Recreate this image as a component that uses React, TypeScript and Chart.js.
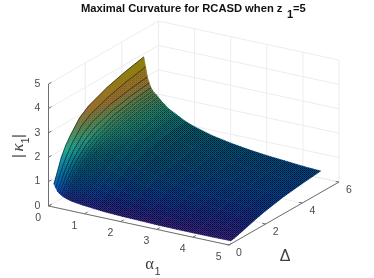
import { useEffect, useRef } from "react";
import { Chart, registerables } from "chart.js";

Chart.register(...registerables);

const alphaTicks = [0, 1, 2, 3, 4, 5];
const deltaTicks = [0, 2, 4, 6];
const kappaTicks = [0, 1, 2, 3, 4, 5];

const deltaValues = [0.1, 0.2, 0.3, 0.5, 0.75, 1, 1.5, 2, 3, 4, 5];
const alphaValues = [0.1, 0.15, 0.2, 0.25, 0.3, 0.35, 0.4, 0.45, 0.5, 0.55, 0.6, 0.65, 0.7, 0.75, 0.8, 0.9, 1, 1.25, 1.5, 2, 2.5, 3, 3.5, 4, 4.5, 5];
const kappaRows = [
  [0.89, 1.1, 1.33, 1.8, 2.2, 2.5, 3.0, 3.28, 3.6, 3.82, 3.99],
  [0.75, 0.95, 1.14, 1.52, 1.9, 2.2, 2.68, 2.95, 3.25, 3.45, 3.6],
  [0.62, 0.8, 0.97, 1.3, 1.65, 1.95, 2.38, 2.65, 2.95, 3.1, 3.2],
  [0.55, 0.7, 0.86, 1.16, 1.48, 1.75, 2.16, 2.42, 2.7, 2.87, 2.97],
  [0.5, 0.63, 0.77, 1.05, 1.35, 1.6, 2.0, 2.25, 2.55, 2.7, 2.8],
  [0.46, 0.58, 0.71, 0.97, 1.25, 1.48, 1.88, 2.13, 2.42, 2.58, 2.68],
  [0.43, 0.54, 0.66, 0.9, 1.16, 1.4, 1.78, 2.03, 2.34, 2.5, 2.6],
  [0.4, 0.5, 0.61, 0.84, 1.1, 1.32, 1.7, 1.94, 2.26, 2.45, 2.55],
  [0.38, 0.47, 0.58, 0.79, 1.05, 1.26, 1.63, 1.87, 2.19, 2.37, 2.47],
  [0.36, 0.45, 0.55, 0.75, 1.0, 1.2, 1.56, 1.8, 2.12, 2.3, 2.4],
  [0.34, 0.43, 0.52, 0.71, 0.95, 1.15, 1.5, 1.73, 2.05, 2.22, 2.32],
  [0.33, 0.41, 0.5, 0.68, 0.91, 1.1, 1.45, 1.66, 1.98, 2.16, 2.26],
  [0.32, 0.39, 0.48, 0.65, 0.87, 1.06, 1.4, 1.61, 1.93, 2.1, 2.2],
  [0.31, 0.38, 0.46, 0.63, 0.84, 1.03, 1.35, 1.56, 1.87, 2.03, 2.13],
  [0.3, 0.36, 0.44, 0.6, 0.81, 0.99, 1.31, 1.52, 1.83, 1.98, 2.08],
  [0.28, 0.34, 0.41, 0.56, 0.76, 0.93, 1.23, 1.44, 1.75, 1.9, 2.0],
  [0.27, 0.32, 0.39, 0.53, 0.72, 0.88, 1.17, 1.37, 1.67, 1.82, 1.92],
  [0.23, 0.28, 0.35, 0.48, 0.64, 0.78, 1.05, 1.24, 1.48, 1.63, 1.72],
  [0.2, 0.25, 0.31, 0.43, 0.58, 0.71, 0.94, 1.12, 1.33, 1.47, 1.58],
  [0.17, 0.21, 0.26, 0.36, 0.49, 0.6, 0.8, 0.96, 1.16, 1.29, 1.37],
  [0.15, 0.18, 0.23, 0.31, 0.42, 0.52, 0.7, 0.84, 1.03, 1.16, 1.23],
  [0.13, 0.16, 0.2, 0.28, 0.37, 0.46, 0.62, 0.75, 0.93, 1.05, 1.12],
  [0.12, 0.15, 0.18, 0.25, 0.33, 0.41, 0.56, 0.68, 0.85, 0.97, 1.04],
  [0.12, 0.14, 0.17, 0.23, 0.3, 0.37, 0.51, 0.63, 0.79, 0.9, 0.98],
  [0.12, 0.14, 0.16, 0.21, 0.28, 0.34, 0.47, 0.58, 0.74, 0.85, 0.92],
  [0.13, 0.14, 0.16, 0.2, 0.26, 0.32, 0.44, 0.54, 0.7, 0.8, 0.88],
];

const colourLevels = [0.13, 0.4, 0.7, 1.1, 1.6, 2.1, 2.6, 3.1, 3.5, 4];
const colourStops = [
  [52, 34, 128], [26, 42, 135], [6, 62, 140], [2, 78, 122], [5, 95, 112],
  [30, 130, 110], [85, 130, 78], [150, 108, 46], [150, 118, 28], [130, 135, 0],
];
const rowBrightness = [1.45, 1.4, 1.32, 1.24, 1.16, 1.08];

const overlayStarts = [0.15, 0.3, 0.5, 0.8, 1.25];
const overlayStrong = [0.18, 0.2, 0.22, 0.2, 0.2];
const overlayWeak = [0.04, 0.08, 0.1, 0.12, 0.12];

type P = { x: number; y: number };
const project = (a: number, d: number, z: number): P => ({
  x: 48.5 + 36.1 * a + 18.33 * d,
  y: 206 + 7.8 * a - 10.5 * d - 24.4 * z,
});

const colourAt = (z: number, row: number) => {
  let i = 0;
  while (i < colourLevels.length - 2 && z > colourLevels[i + 1]) i++;
  const t = Math.max(0, Math.min(1, (z - colourLevels[i]) / (colourLevels[i + 1] - colourLevels[i])));
  const full = rowBrightness[row] ?? 1;
  const fade = Math.max(0, Math.min(1, (2.6 - z) / 0.8));
  const boost = 1 + (full - 1) * fade;
  const c = colourStops[i].map((v, k) => Math.min(255, Math.round((v + (colourStops[i + 1][k] - v) * t) * boost)));
  return `rgb(${c[0]},${c[1]},${c[2]})`;
};

const line = (data: P[], color: string, width: number) => ({
  data, showLine: true, pointRadius: 0, borderColor: color, borderWidth: width, fill: false, tension: 0,
});

const dotPattern = (strong: number, weak: number) => {
  const c = document.createElement("canvas");
  c.width = 2; c.height = 2;
  const g = c.getContext("2d")!;
  g.fillStyle = `rgba(0,0,0,${strong})`;
  g.fillRect(0, 0, 1, 1);
  g.fillStyle = `rgba(0,0,0,${weak})`;
  g.fillRect(1, 1, 1, 1);
  return g.createPattern(c, "repeat")!;
};

const frameDatasets = () => {
  const grid = "#ececec";
  const axis = "#6e6e6e";
  const sets: any[] = [];
  const aMax = 5, dMax = 6, zMax = 5;
  for (const a of alphaTicks) {
    sets.push(line([project(a, 0, 0), project(a, dMax, 0), project(a, dMax, zMax)], grid, 1));
  }
  for (const d of deltaTicks) {
    sets.push(line([project(aMax, d, 0), project(0, d, 0), project(0, d, zMax)], grid, 1));
  }
  for (const z of kappaTicks) {
    sets.push(line([project(0, 0, z), project(0, dMax, z), project(aMax, dMax, z)], grid, 1));
  }
  sets.push(line([project(0, 0, zMax), project(0, 0, 0), project(aMax, 0, 0), project(aMax, dMax, 0)], axis, 1));
  for (const a of alphaTicks) sets.push(line([project(a, 0, 0), project(a, 0.16, 0)], axis, 1));
  for (const d of deltaTicks) sets.push(line([project(aMax, d, 0), project(aMax - 0.09, d, 0)], axis, 1));
  for (const z of kappaTicks) sets.push(line([project(0, 0, z), project(0, 0.16, z)], axis, 1));
  return sets;
};

const surfaceDatasets = () => {
  const sets: any[] = [];
  const gctx = document.createElement("canvas").getContext("2d")!;
  for (let j = deltaValues.length - 2; j >= 0; j--) {
    for (let i = 0; i < alphaValues.length - 1; i++) {
      const corners: [number, number][] = [[i, j], [i + 1, j], [i + 1, j + 1], [i, j + 1], [i, j]];
      const pts = corners.map(([r, c]) => project(alphaValues[r], deltaValues[c], kappaRows[r][c]));
      const zLow = (kappaRows[i][j] + kappaRows[i + 1][j]) / 2;
      const zHigh = (kappaRows[i][j + 1] + kappaRows[i + 1][j + 1]) / 2;
      const g = gctx.createLinearGradient((pts[0].x + pts[1].x) / 2, (pts[0].y + pts[1].y) / 2, (pts[2].x + pts[3].x) / 2, (pts[2].y + pts[3].y) / 2);
      g.addColorStop(0, colourAt(zLow, i));
      g.addColorStop(1, colourAt(zHigh, i));
      sets.push({ data: pts, showLine: true, pointRadius: 0, borderColor: g, borderWidth: 0.7, backgroundColor: g, fill: "shape", tension: 0 });
    }
  }
  return sets;
};

const overlayFrom = (alphaStart: number, pattern: CanvasPattern) => {
  const start = alphaValues.indexOf(alphaStart);
  const last = alphaValues.length - 1, lastC = deltaValues.length - 1;
  const outline: P[] = [];
  for (let r = start; r <= last; r++) outline.push(project(alphaValues[r], deltaValues[0], kappaRows[r][0]));
  for (let c = 1; c <= lastC; c++) outline.push(project(alphaValues[last], deltaValues[c], kappaRows[last][c]));
  for (let r = last - 1; r >= start; r--) outline.push(project(alphaValues[r], deltaValues[lastC], kappaRows[r][lastC]));
  for (let c = lastC - 1; c >= 0; c--) outline.push(project(alphaStart, deltaValues[c], kappaRows[start][c]));
  return { data: outline, showLine: true, pointRadius: 0, borderWidth: 0, borderColor: "rgba(0,0,0,0)", backgroundColor: pattern, fill: "shape", tension: 0 };
};

const meshDatasets = () => {
  const sets: any[] = [];
  overlayStarts.forEach((a, k) => sets.push(overlayFrom(a, dotPattern(overlayStrong[k], overlayWeak[k]))));
  alphaValues.forEach((a, r) => {
    if (a > 0.8) return;
    const pts = deltaValues.map((d, c) => project(a, d, kappaRows[r][c]));
    const ink = r < 5 ? 0.72 : r < 9 ? 0.5 : 0.3;
    sets.push(line(pts, `rgba(10,10,10,${ink})`, 0.8));
  });
  return sets;
};

const labelsPlugin = {
  id: "labels3d",
  afterDraw(chart: any) {
    const g: CanvasRenderingContext2D = chart.ctx;
    const sans = '"Liberation Sans", Arial, sans-serif';
    const serif = '"Liberation Serif", serif';
    const put = (t: string, x: number, y: number, font: string, col: string, align: CanvasTextAlign = "center") => {
      g.font = font; g.fillStyle = col; g.textAlign = align; g.textBaseline = "middle";
      g.fillText(t, x, y);
    };
    g.save();
    const tickFont = `10.5px ${sans}`, tickCol = "#4a4a4a";
    for (const z of kappaTicks) { const p = project(0, 0, z); put(String(z), p.x - 11, p.y, tickFont, tickCol); }
    for (const a of alphaTicks) { const p = project(a, 0, 0); put(String(a), p.x - 10.3, p.y + 12, tickFont, tickCol); }
    for (const d of deltaTicks) { const p = project(5, d, 0); put(String(d), p.x + 10, p.y + 8.5, tickFont, tickCol); }

    const bold = `bold 11.2px ${sans}`, black = "#111";
    put("Maximal Curvature for RCASD when z", 81, 9, bold, black, "left");
    put("1", 290, 15, bold, black);
    put("=5", 293, 9, bold, black, "left");

    put("\u03B1", 149.5, 265, `16.5px ${serif}`, "#404040");
    put("1", 157.5, 272, `11px ${sans}`, "#404040");
    put("\u0394", 285, 257, `16px ${sans}`, "#404040");

    g.translate(19, 146);
    g.rotate(-Math.PI / 2);
    put("|", -10, 0, `15px ${sans}`, "#404040");
    put("\u03BA", -1.5, 0, `italic 17px ${serif}`, "#404040");
    put("1", 5.5, 7, `11px ${sans}`, "#404040");
    put("|", 10, 0, `15px ${sans}`, "#404040");
    g.restore();
  },
};

export default function App() {
  const ref = useRef<HTMLCanvasElement>(null);
  useEffect(() => {
    const datasets = [...frameDatasets(), ...surfaceDatasets(), ...meshDatasets()].reverse();
    const chart = new Chart(ref.current!, {
      type: "scatter",
      data: { datasets },
      options: {
        animation: false,
        responsive: false,
        layout: { padding: 0 },
        parsing: false,
        normalized: true,
        scales: {
          x: { type: "linear", min: 0, max: 374, display: false },
          y: { type: "linear", min: 0, max: 278, reverse: true, display: false },
        },
        plugins: { legend: { display: false }, tooltip: { enabled: false }, title: { display: false } },
      } as any,
      plugins: [labelsPlugin],
    });
    return () => chart.destroy();
  }, []);
  return (
    <div style={{ position: "fixed", left: 0, top: 0, width: 374, height: 278, background: "#fff" }}>
      <canvas ref={ref} width={374} height={278} style={{ display: "block" }} />
    </div>
  );
}
